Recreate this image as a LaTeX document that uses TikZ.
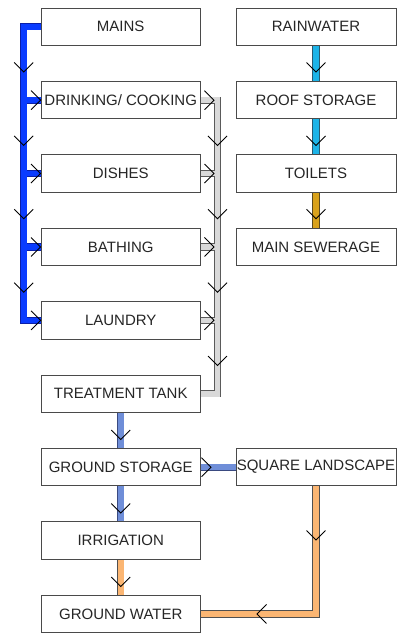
\documentclass[tikz,border=0pt]{standalone}
\usepackage{fontspec}
\setmainfont{Liberation Sans}
\usetikzlibrary{calc}
\definecolor{boxc}{HTML}{4A4A4A}
\definecolor{blueF}{HTML}{0A3CFF}
\definecolor{blueB}{HTML}{0A1FA8}
\definecolor{grayF}{HTML}{D9D9D9}
\definecolor{grayB}{HTML}{5A5A5A}
\definecolor{cyanF}{HTML}{1CB4E8}
\definecolor{cyanB}{HTML}{2A5A70}
\definecolor{goldF}{HTML}{D9A21B}
\definecolor{goldB}{HTML}{5A4A20}
\definecolor{steelF}{HTML}{6F8ED8}
\definecolor{steelB}{HTML}{3A4A80}
\definecolor{orangeF}{HTML}{FBB673}
\definecolor{orangeB}{HTML}{505050}
\pgfdeclarelayer{bg}
\pgfsetlayers{bg,main}
\begin{document}
\begin{tikzpicture}[x=1pt,y=-1pt,
  box/.style={draw=boxc, line width=0.9pt, fill=white, minimum width=159.5pt,
    minimum height=37.5pt, inner sep=0pt, text=black!85, font=\fontsize{15}{17}\selectfont},
  rbox/.style={box, minimum width=160pt},
  pipe/.style 2 args={draw=#2, line width=5.6pt, preaction={draw=#1, line width=7.2pt}},
  chevline/.style={draw=black, line width=0.9pt},
  chev/.pic={\draw[chevline] (-9.5,-9.5) -- (0,0) -- (-9.5,9.5);}
]
\useasboundingbox (0,0) rectangle (399,633);
% left column
\node[box] (mains)   at (120.75,26.75)  {MAINS};
\node[box] (drink)   at (120.75,100.15) {DRINKING/ COOKING};
\node[box] (dishes)  at (120.75,173.55) {DISHES};
\node[box] (bath)    at (120.75,246.95) {BATHING};
\node[box] (laundry) at (120.75,320.35) {LAUNDRY};
\node[box] (tt)      at (120.75,393.75) {TREATMENT TANK};
\node[box] (gs)      at (120.75,467.15) {GROUND STORAGE};
\node[box] (irr)     at (120.75,540.55) {IRRIGATION};
\node[box] (gw)      at (120.75,613.95) {GROUND WATER};
% right column
\node[rbox] (rain) at (316,26.75)  {RAINWATER};
\node[rbox] (roof) at (316,100.15) {ROOF STORAGE};
\node[rbox] (toil) at (316,173.55) {TOILETS};
\node[rbox] (sew)  at (316,246.95) {MAIN SEWERAGE};
\node[rbox] (sl)   at (316,467.15) {SQUARE LANDSCAPE};
\coordinate (bb) at (23.7,0);
\coordinate (gb) at (217.5,0);
\begin{pgfonlayer}{bg}
\path[pipe={blueB}{blueF}]
  (mains.west) -- (mains.west -| bb) -- (laundry.west -| bb) -- (laundry.west)
  (drink.west) -- (drink.west -| bb)
  (dishes.west) -- (dishes.west -| bb)
  (bath.west) -- (bath.west -| bb);
\path[pipe={grayB}{grayF}]
  (drink.east) -- (drink.east -| gb) -- (tt.east -| gb) -- (tt.east)
  (dishes.east) -- (dishes.east -| gb)
  (bath.east) -- (bath.east -| gb)
  (laundry.east) -- (laundry.east -| gb);
\path[pipe={cyanB}{cyanF}] (rain.south) -- (roof.north) (roof.south) -- (toil.north);
\path[pipe={goldB}{goldF}] (toil.south) -- (sew.north);
\path[pipe={steelB}{steelF}] (tt.south) -- (gs.north) (gs.south) -- (irr.north) (gs.east) -- (sl.west);
\path[pipe={orangeB}{orangeF}] (irr.south) -- (gw.north)
  (sl.south) -- (sl.south |- gw.east) -- (gw.east);
\end{pgfonlayer}
% chevrons
\foreach \y in {72,145.4,218.8,292.2} \pic[rotate=-90] at (23.7,\y) {chev};
\foreach \n in {drink,dishes,bath,laundry} {
  \pic at (\n.west) {chev};
  \pic at ($(\n.east -| gb)+(-3.5,0)$) {chev};
}
\foreach \y in {145.4,218.8,292.2,365.6} \pic[rotate=-90] at (217.5,\y) {chev};
\foreach \y in {72,145.4,218.8} \pic[rotate=-90] at (316,\y) {chev};
\foreach \y in {439.5,513,586.5} \pic[rotate=-90] at (120.75,\y) {chev};
\pic at (211,467.15) {chev};
\pic[rotate=-90] at (316,540) {chev};
\pic[rotate=180] at (257,613.95) {chev};
\end{tikzpicture}
\end{document}
